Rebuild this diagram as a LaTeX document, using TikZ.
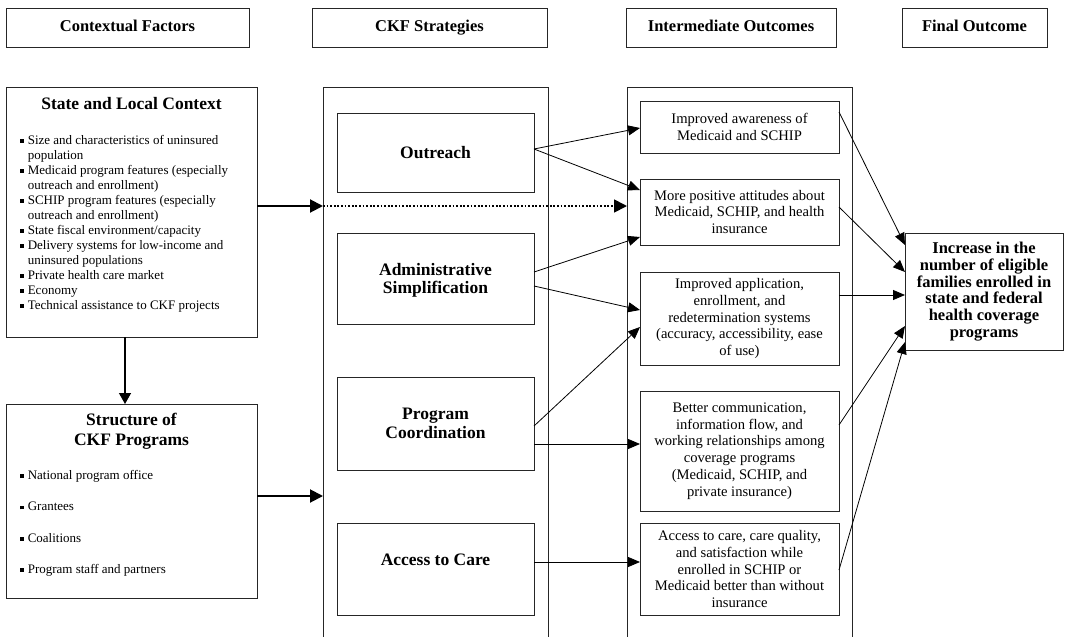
\documentclass[tikz,border=0pt]{standalone}
\usepackage{fontspec}
\setmainfont{Liberation Serif}
\usetikzlibrary{arrows.meta}
\newcommand{\sqb}{\rule[1.4pt]{3.6pt}{3.6pt}\hspace{4pt}}
\newcommand{\ind}{\hspace*{7.6pt}}
\begin{document}
\begin{tikzpicture}[x=1pt,y=-1pt,
  box/.style={draw=black!85, line width=0.9pt, inner sep=0pt, outer sep=0pt, rectangle},
  hdr/.style={box, minimum height=39pt, text height=11.5pt, text depth=4.5pt, font=\fontsize{16.5}{19}\selectfont\bfseries},
  ctx/.style={box, minimum width=251pt},
  ttl/.style={inner sep=0pt, align=center, font=\fontsize{17.5}{20}\selectfont\bfseries},
  listtxt/.style={inner sep=0pt, align=left, font=\fontsize{13}{15}\selectfont},
  col/.style={inner sep=0pt, outer sep=0pt, minimum width=225pt, minimum height=550pt},
  colline/.style={draw=black!85, line width=0.9pt},
  strat/.style={box, minimum width=197pt, align=center, text depth=0pt, font=\fontsize{17.5}{18.6}\selectfont\bfseries},
  inter/.style={box, minimum width=199pt, align=center, font=\fontsize{14.6}{16.8}\selectfont},
  fin/.style={box, minimum width=158pt, minimum height=117pt, align=center, font=\fontsize{16.5}{16.8}\selectfont\bfseries},
  con/.style={line width=0.8pt, -{Triangle[length=12pt,width=10pt]}},
  bigcon/.style={line width=2pt, -{Triangle[length=13pt,width=13pt]}},
  midcon/.style={line width=1.3pt, -{Triangle[length=11pt,width=12pt]}},
  dotcon/.style={line width=1.8pt, dash pattern=on 1.8pt off 1.8pt, -{Triangle[length=13pt,width=13pt]}}
]
\useasboundingbox (0,0) rectangle (1066,637);

% headers
\node[hdr, minimum width=243pt] (h1) at (127.5,27.5) {Contextual Factors};
\node[hdr, minimum width=235pt] (h2) at (429.5,27.5) {CKF Strategies};
\node[hdr, minimum width=210pt] (h3) at (731,27.5) {Intermediate Outcomes};
\node[hdr, minimum width=145pt] (h4) at (974.5,27.5) {Final Outcome};

% contextual factors
\node[ctx, minimum height=250pt] (sc) at (131.5,212) {};
\node[ttl, anchor=base] (sct) at ([yshift=-22pt]sc.north) {State and Local Context};
\node[listtxt, anchor=base west] (scl) at ([xshift=14pt,yshift=-222pt]sc.north west) {%
\sqb Size and characteristics of uninsured\\
\ind population\\
\sqb Medicaid program features (especially\\
\ind outreach and enrollment)\\
\sqb SCHIP program features (especially\\
\ind outreach and enrollment)\\
\sqb State fiscal environment/capacity\\
\sqb Delivery systems for low-income and\\
\ind uninsured populations\\
\sqb Private health care market\\
\sqb Economy\\
\sqb Technical assistance to CKF projects};

\node[ctx, minimum height=194pt] (st) at (131.5,501) {};
\node[ttl, anchor=base] (stt) at ([yshift=-41.7pt]st.north) {Structure of\\CKF Programs};
\node[listtxt, anchor=base west, font=\fontsize{13}{31.3}\selectfont] (stl) at ([xshift=14pt,yshift=-169.3pt]st.north west) {%
\sqb National program office\\
\sqb Grantees\\
\sqb Coalitions\\
\sqb Program staff and partners};

% columns
\node[col] (colS) at (435.5,362) {};
\node[col] (colI) at (739.5,362) {};
\draw[colline] (colS.south west) |- (colS.north east) -- (colS.south east);
\draw[colline] (colI.south west) |- (colI.north east) -- (colI.south east);

% strategies
\node[strat, minimum height=79pt] (out) at (435.5,152.5) {Outreach};
\node[strat, minimum height=91pt] (adm) at (435.5,278.5) {Administrative\\Simplification};
\node[strat, minimum height=93pt] (pc) at (435.5,423.5) {Program\\Coordination};
\node[strat, minimum height=92pt] (atc) at (435.5,569) {};
\node[ttl, font=\fontsize{17.5}{19}\selectfont\bfseries] (atct) at ([yshift=9pt]atc.center) {Access to Care};

% intermediate outcomes
\node[inter, minimum height=52pt] (i1) at (739.5,127) {Improved awareness of\\Medicaid and SCHIP};
\node[inter, minimum height=66pt] (i2) at (739.5,212) {More positive attitudes about\\Medicaid, SCHIP, and health\\insurance};
\node[inter, minimum height=93pt] (i3) at (739.5,318.5) {Improved application,\\enrollment, and\\redetermination systems\\(accuracy, accessibility, ease\\of use)};
\node[inter, minimum height=120pt] (i4) at (739.5,451) {Better communication,\\information flow, and\\working relationships among\\coverage programs\\(Medicaid, SCHIP, and\\private insurance)};
\node[inter, minimum height=92pt] (i5) at (739.5,569) {Access to care, care quality,\\and satisfaction while\\enrolled in SCHIP or\\Medicaid better than without\\insurance};

% final outcome
\node[fin] (fo) at (984,291.5) {Increase in the\\number of eligible\\families enrolled in\\state and federal\\health coverage\\programs};

% connectors
\draw[bigcon] ([yshift=6pt]sc.east) -- ([yshift=6pt]sc.east -| colS.west);
\draw[dotcon] ([yshift=6pt]sc.east -| colS.west) -- ([yshift=6pt]sc.east -| colI.west);
\draw[bigcon] ([yshift=5pt]st.east) -- ([yshift=5pt]st.east -| colS.west);
\draw[midcon] ([xshift=-6.5pt]sc.south) -- ([xshift=-6.5pt]st.north);

\draw[con] ([yshift=3.5pt]out.east) -- ([yshift=-1pt]i1.west);
\draw[con] ([yshift=3.5pt]out.east) -- ([yshift=22pt]i2.west);
\draw[con] ([yshift=6.5pt]adm.east) -- ([yshift=-25pt]i2.west);
\draw[con] ([yshift=-7.5pt]adm.east) -- ([yshift=8.5pt]i3.west);
\draw[con] ([yshift=-2.5pt]pc.east) -- ([yshift=-8.5pt]i3.west);
\draw[con] ([yshift=-20.5pt]pc.east) -- ([yshift=7pt]i4.west);
\draw[con] ([yshift=7pt]atc.east) -- ([yshift=7pt]i5.west);

\draw[con] ([yshift=15pt]i1.east) -- ([yshift=46.5pt]fo.west);
\draw[con] ([yshift=5pt]i2.east) -- ([yshift=19.5pt]fo.west);
\draw[con] ([yshift=23.5pt]i3.east) -- ([yshift=-3.5pt]fo.west);
\draw[con] ([yshift=26pt]i4.east) -- ([yshift=-34.5pt]fo.west);
\draw[con] ([yshift=-1pt]i5.east) -- ([yshift=-50.5pt]fo.west);
\end{tikzpicture}
\end{document}
